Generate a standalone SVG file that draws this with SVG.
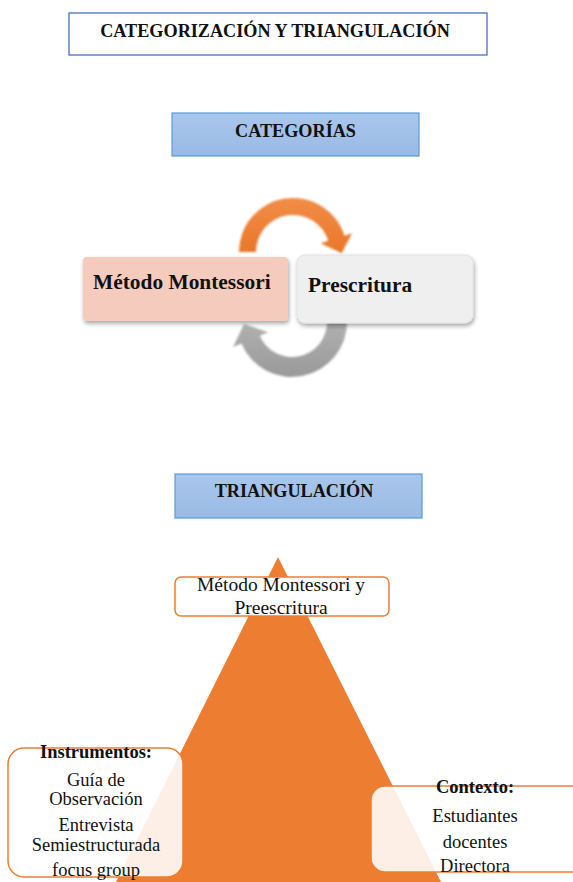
<svg xmlns="http://www.w3.org/2000/svg" width="573" height="882" viewBox="0 0 573 882">
<defs>
<linearGradient id="blueG" x1="0" y1="0" x2="0" y2="1"><stop offset="0" stop-color="#AAC7EC"/><stop offset="1" stop-color="#98BAE5"/></linearGradient>
<linearGradient id="orG" x1="0" y1="0" x2="0" y2="1"><stop offset="0" stop-color="#F28D47"/><stop offset="1" stop-color="#E8772A"/></linearGradient>
<linearGradient id="grG" x1="0" y1="0" x2="0" y2="1"><stop offset="0" stop-color="#B0B0B0"/><stop offset="1" stop-color="#9A9A9A"/></linearGradient>
<filter id="sh" x="-10%" y="-10%" width="130%" height="140%"><feDropShadow dx="1" dy="2.5" stdDeviation="2" flood-color="#000" flood-opacity="0.35"/></filter>
<filter id="soft"><feGaussianBlur stdDeviation="0.8"/></filter>
</defs>
<style>
.hb{font-family:"Liberation Serif","Times New Roman",serif;font-weight:bold;font-size:18.2px;fill:#111;text-anchor:middle}
.cat{font-family:"Liberation Serif","Times New Roman",serif;font-weight:bold;font-size:21.4px;fill:#111}
.t{font-family:"Liberation Serif","Times New Roman",serif;font-size:18.5px;fill:#111;text-anchor:middle}
.tb{font-family:"Liberation Serif","Times New Roman",serif;font-size:18.5px;font-weight:bold;fill:#111;text-anchor:middle}
.tc{font-family:"Liberation Serif","Times New Roman",serif;font-size:19.5px;fill:#111;text-anchor:middle}
.bluebox{fill:url(#blueG);stroke:#5B9BD5;stroke-width:1.2}
.obox{stroke:#ED7D31;stroke-width:1.5}
</style>

<g id="title">
<rect x="69" y="13" width="418" height="42" fill="#fff" stroke="#4472C4" stroke-width="1.3"/>
<text class="hb" x="275" y="37">CATEGORIZACIÓN Y TRIANGULACIÓN</text>
</g>

<g id="categorias">
<rect class="bluebox" x="172" y="113" width="247" height="43"/>
<text class="hb" x="295.5" y="137">CATEGORÍAS</text>
</g>

<g id="connectors">
<path filter="url(#soft)" fill="url(#orG)" d="M 239,252 A 54 54 0 0 1 344.5,235.7 L 352.1,233.3 L 341.7,253.3 L 320.6,243.2 L 328.3,240.8 A 37 37 0 0 0 256,252 Z"/>
<path filter="url(#soft)" fill="url(#grG)" d="M 347,322 A 55 55 0 0 1 241.4,343.5 L 233.1,347 L 244,324 L 268.1,332.2 L 259.8,335.7 A 35 35 0 0 0 327,322 Z"/>
</g>

<g id="metodo">
<rect x="83" y="257" width="205" height="64" rx="4" fill="#F5CBBD" filter="url(#sh)"/>
<text class="cat" x="93" y="289">Método Montessori</text>
</g>

<g id="prescritura">
<rect x="297" y="255" width="176" height="68" rx="8" fill="#EFEFEF" stroke="#E2E2E2" stroke-width="1" filter="url(#sh)"/>
<text class="cat" x="308" y="292">Prescritura</text>
</g>

<g id="triangulacion">
<rect class="bluebox" x="175" y="474" width="247" height="44"/>
<text class="hb" x="294" y="497">TRIANGULACIÓN</text>
</g>

<g id="triangulo">
<polygon points="278,557 112,890 445,890" fill="#ED7D31"/>
</g>

<g id="centro">
<rect class="obox" x="175" y="577" width="214" height="39" rx="6" fill="#fff"/>
<text class="tc" x="281" y="591">Método Montessori y</text>
<text class="tc" x="281" y="613.5">Preescritura</text>
</g>

<g id="instrumentos">
<rect class="obox" x="8" y="748" width="175" height="129" rx="16" fill="#fff" fill-opacity="0.88"/>
<text class="tb" x="96" y="758">Instrumentos:</text>
<text class="t" x="96" y="786">Guía de</text>
<text class="t" x="96" y="805">Observación</text>
<text class="t" x="96" y="831">Entrevista</text>
<text class="t" x="96" y="851">Semiestructurada</text>
<text class="t" x="96" y="876">focus group</text>
</g>

<g id="contexto">
<rect class="obox" x="371" y="786" width="215" height="86" rx="14" fill="#fff" fill-opacity="0.88"/>
<text class="tb" x="475" y="793">Contexto:</text>
<text class="t" x="475" y="822">Estudiantes</text>
<text class="t" x="475" y="848">docentes</text>
<text class="t" x="475" y="872">Directora</text>
</g>
</svg>
